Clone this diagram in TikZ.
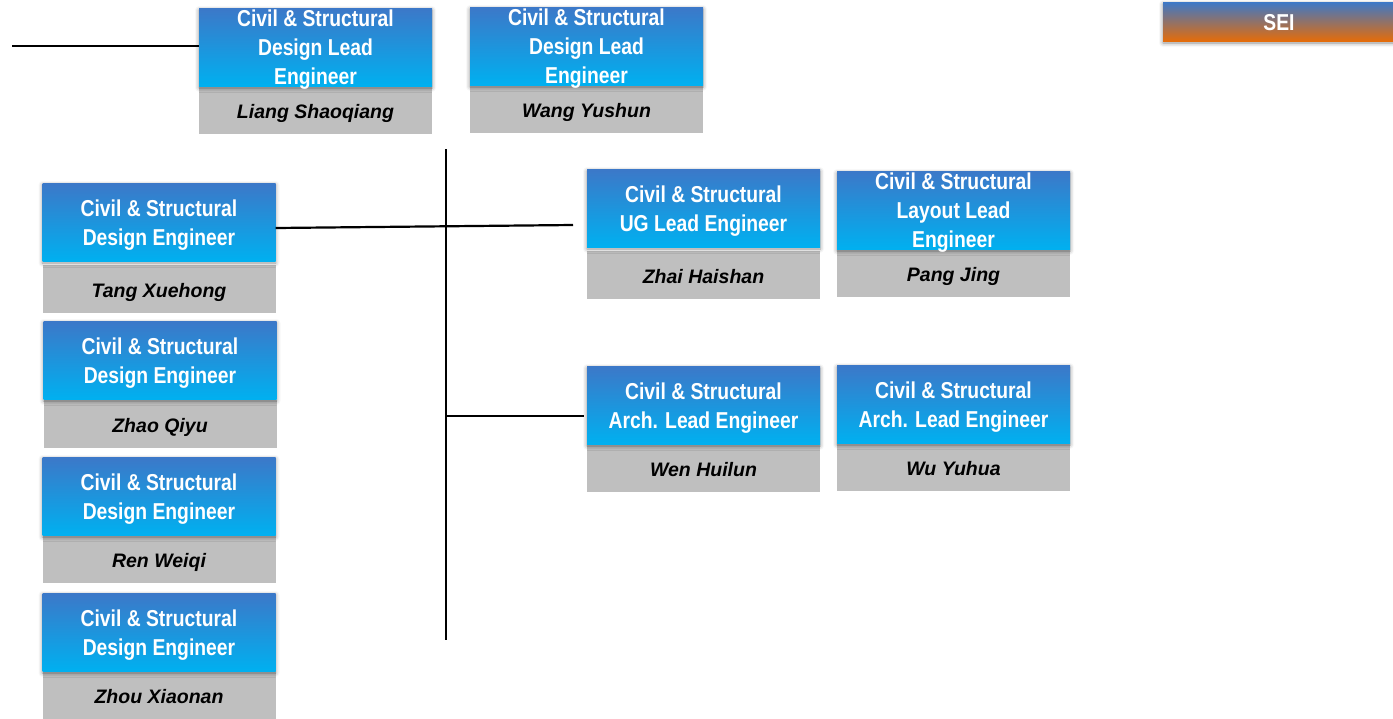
\documentclass[tikz,border=0pt]{standalone}
\usepackage{fontspec}
\setmainfont{Liberation Sans}
\newfontfamily\condfont[FakeStretch=0.84]{Liberation Sans}
\usetikzlibrary{shadows.blur}

\definecolor{roleTop}{RGB}{60,120,200}
\definecolor{roleBot}{RGB}{0,176,240}
\definecolor{nameGray}{RGB}{191,191,191}
\definecolor{seiOrange}{RGB}{228,108,10}

\tikzset{
  rolebox/.style={rectangle, inner sep=0pt, minimum width=233pt, minimum height=78pt,
    top color=roleTop, bottom color=roleBot, draw=none,
    blur shadow={shadow xshift=0pt, shadow yshift=-2pt, shadow blur radius=4pt, shadow opacity=45}},
  rolefont/.style={text=white, align=center, inner sep=0pt,
    font=\condfont\bfseries\fontsize{23}{29}\selectfont},
  namebox/.style={rectangle, inner sep=0pt, minimum width=233pt, minimum height=48pt,
    text height=18pt, text depth=1pt,
    fill=nameGray, draw=none, text=black,
    font=\bfseries\itshape\fontsize{19.5}{22}\selectfont},
  link/.style={draw=black, line width=2.2pt},
}

% #1 node name, #2 centre x, #3 top of title box, #4 top of name box, #5 title, #6 person
\newcommand\rolecard[6]{%
  \node[namebox] (#1p) at (#2,#4+24) {#6};
  \node[rolebox] (#1) at (#2,#3+39) {};
  \node[rolefont, yshift=-3pt] (#1t) at (#1) {#5};
}

\begin{document}
\begin{tikzpicture}[x=1pt,y=-1pt]
\useasboundingbox (0,0) rectangle (1393,718);

% reporting lines
\coordinate (lead) at (12,46);
\coordinate (spineTop) at (446,149);
\coordinate (spineBot) at (446,640);
\coordinate (ugEnd) at (573,225);
\coordinate (archEnd) at (584,416);

% top row
\rolecard{L}{315.5}{8}{86}{Civil \& Structural\\Design Lead\\Engineer}{Liang Shaoqiang}
\rolecard{W}{586.5}{7}{85}{Civil \& Structural\\Design Lead\\Engineer}{Wang Yushun}

% design engineers
\rolecard{T}{159}{183}{265}{Civil \& Structural\\Design Engineer}{Tang Xuehong}
\rolecard{Q}{160}{321}{400}{Civil \& Structural\\Design Engineer}{Zhao Qiyu}
\rolecard{R}{159}{457}{535}{Civil \& Structural\\Design Engineer}{Ren Weiqi}
\rolecard{X}{159}{593}{671}{Civil \& Structural\\Design Engineer}{Zhou Xiaonan}

% lead engineers
\rolecard{Z}{703.5}{169}{251}{Civil \& Structural\\UG Lead Engineer}{Zhai Haishan}
\rolecard{P}{953.5}{171}{249}{Civil \& Structural\\Layout Lead\\Engineer}{Pang Jing}
\rolecard{H}{703.5}{366}{444}{Civil \& Structural\\Arch. Lead Engineer}{Wen Huilun}
\rolecard{Y}{953.5}{365}{443}{Civil \& Structural\\Arch. Lead Engineer}{Wu Yuhua}

% SEI tag
\node[rectangle, inner sep=0pt, minimum width=234pt, minimum height=39pt,
  top color=roleTop, bottom color=seiOrange,
  blur shadow={shadow xshift=0pt, shadow yshift=-2pt, shadow blur radius=4pt, shadow opacity=45}]
  (sei) at (1280,21.5) {};
\node[rolefont, yshift=-1pt] (seit) at (1279,21.5) {SEI};

% connectors
\draw[link] (lead) -- (lead -| L.west);
\draw[link] (spineTop) -- (spineBot);
\draw[link] ([yshift=-6pt]T.east) -- (ugEnd);
\draw[link] (archEnd -| spineTop) -- (archEnd);
\end{tikzpicture}
\end{document}
